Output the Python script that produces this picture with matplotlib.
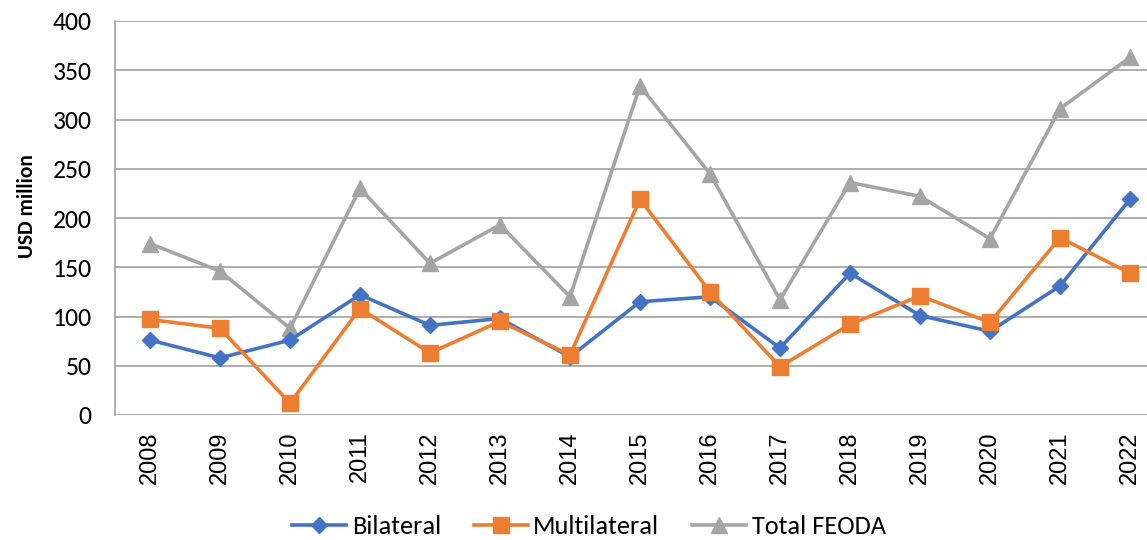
import matplotlib.pyplot as plt

years = [str(y) for y in range(2008, 2023)]
bilateral = [76, 58, 76, 122, 91, 98, 59, 115, 120, 68, 144, 101, 85, 131, 219]
multilateral = [97, 88, 12, 108, 63, 95, 61, 219, 125, 49, 92, 121, 94, 180, 144]
total = [174, 146, 88, 230, 154, 193, 120, 334, 245, 117, 236, 222, 179, 311, 363]

plt.rcParams['font.family'] = ['Carlito', 'Lato', 'DejaVu Sans']

fig = plt.figure(figsize=(11.47, 5.4), dpi=100)
# plot area in the source runs a bit past the right edge of the image
ax = fig.add_axes([115 / 1147, 1 - 415 / 540, 1050 / 1147, 394 / 540])

x = list(range(len(years)))
ax.plot(x, bilateral, color='#4472C4', lw=2.6, marker='D', ms=8, label='Bilateral', zorder=3)
ax.plot(x, multilateral, color='#ED7D31', lw=2.6, marker='s', ms=11, label='Multilateral', zorder=4)
ax.plot(x, total, color='#A5A5A5', lw=2.6, marker='^', ms=11, label='Total FEODA', zorder=2)

ax.set_xlim(-0.5, len(years) - 0.5)
ax.set_ylim(0, 400)
ax.set_yticks(range(0, 401, 50))
ax.set_xticks(x)
ax.set_xticklabels(years, rotation=90, fontsize=17, family='Liberation Sans')
ax.tick_params(axis='y', labelsize=18.5, length=0, pad=17)
ax.tick_params(axis='x', length=0, pad=12)
ax.grid(axis='y', color='#A0A0A0', lw=1.2)
ax.set_axisbelow(True)
for s in ['top', 'right', 'bottom']:
    ax.spines[s].set_visible(False)
ax.spines['left'].set_color('#A0A0A0')
ax.spines['left'].set_linewidth(1.2)

ax.set_ylabel('USD million', fontsize=15.5, fontweight='bold')
ax.yaxis.set_label_coords(-0.074, 0.53)

fig.legend(loc='center', bbox_to_anchor=(589 / 1147, 1 - 527 / 540), ncol=3,
           frameon=False, fontsize=19, handlelength=2.05, columnspacing=1.25,
           handletextpad=0.2, borderpad=0, borderaxespad=0)

fig.savefig('out.png', dpi=100)
